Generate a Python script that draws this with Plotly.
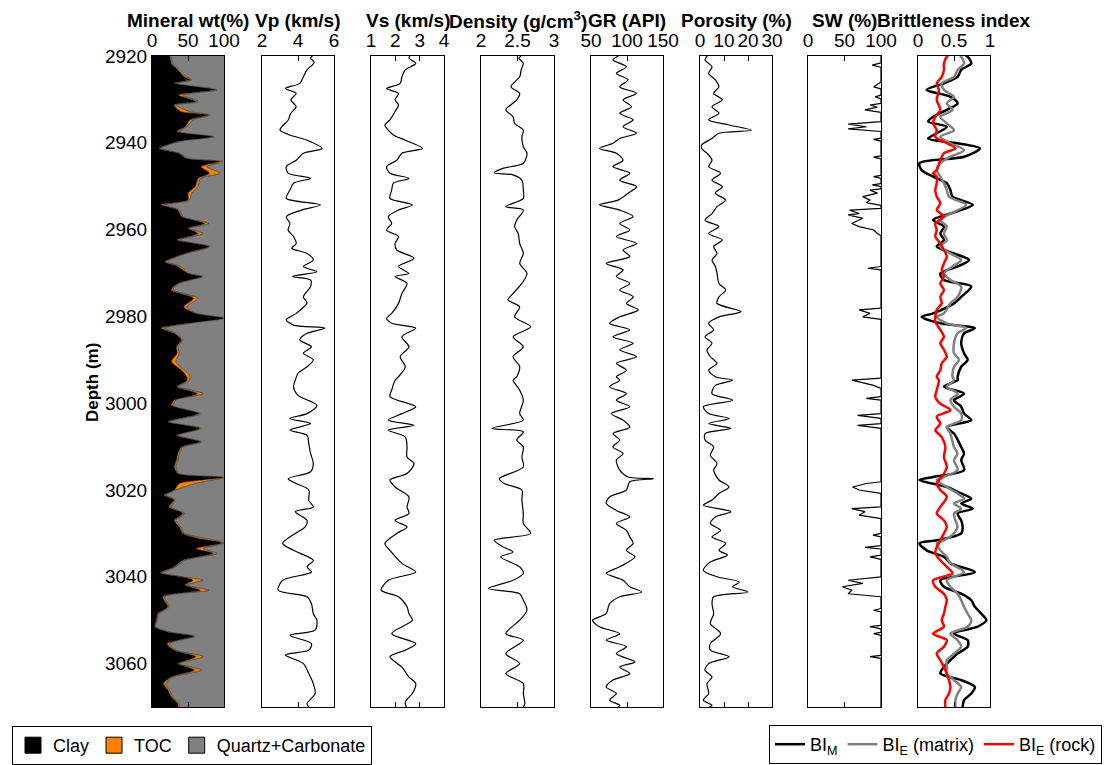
import plotly.graph_objects as go

# ---------------- data (depth in m, value) ----------------
mineral_log = [  # (depth, clay wt%, TOC wt%)
    (2920.0, 24, 1), (2920.2, 25, 1), (2921.7, 27, 2), (2923.2, 36, 2), (2924.8, 45, 3),
    (2925.5, 53, 2), (2926.3, 31, 2), (2927.8, 88, 2), (2929.0, 37, 6), (2930.5, 61, 3),
    (2931.3, 31, 2), (2932.8, 40, 12), (2933.6, 78, 3), (2934.7, 53, 4), (2936.3, 46, 2),
    (2937.4, 35, 3), (2938.6, 84, 2), (2939.7, 36, 2), (2941.3, 10, 2), (2942.4, 37, 1),
    (2943.6, 48, 2), (2944.3, 94, 4), (2945.5, 68, 8), (2947.0, 80, 15), (2948.2, 64, 3),
    (2950.1, 60, 4), (2951.6, 50, 5), (2953.2, 50, 2), (2954.3, 13, 4), (2955.5, 36, 2),
    (2957.0, 41, 2), (2958.6, 73, 6), (2959.7, 50, 2), (2960.9, 64, 7), (2962.4, 35, 3),
    (2963.9, 79, 2), (2965.5, 46, 2), (2967.4, 18, 3), (2968.5, 36, 4), (2970.1, 50, 2),
    (2970.8, 69, 2), (2972.4, 36, 2), (2973.9, 27, 2), (2975.8, 58, 6), (2977.8, 44, 4),
    (2979.3, 60, 2), (2980.4, 99, 1), (2981.6, 50, 2), (2982.7, 13, 4), (2983.9, 31, 2),
    (2985.4, 41, 2), (2987.0, 34, 2), (2988.5, 35, 3), (2990.4, 27, 6), (2992.4, 41, 4),
    (2993.5, 47, 5), (2994.7, 49, 3), (2996.2, 35, 3), (2997.8, 63, 8), (2999.3, 31, 2),
    (3000.5, 27, 2), (3002.4, 65, 2), (3004.3, 22, 2), (3005.8, 66, 3), (3007.4, 34, 2),
    (3008.9, 67, 2), (3010.1, 41, 2), (3011.6, 36, 2), (3013.1, 34, 2), (3014.7, 31, 2),
    (3016.2, 36, 2), (3017.1, 98, 2), (3018.5, 38, 22), (3020.0, 31, 2), (3021.2, 17, 2),
    (3022.3, 31, 2), (3023.9, 24, 2), (3025.4, 43, 2), (3027.0, 31, 2), (3028.5, 38, 2),
    (3030.0, 43, 2), (3031.2, 66, 10), (3032.2, 97, 3), (3033.5, 61, 10), (3034.6, 85, 5),
    (3036.2, 43, 2), (3037.7, 31, 2), (3039.1, 12, 2), (3040.0, 41, 2), (3040.8, 57, 14),
    (3041.9, 46, 2), (3043.1, 67, 12), (3044.6, 15, 2), (3046.9, 22, 2), (3048.5, 8, 2),
    (3050.0, 6, 1), (3051.5, 4, 1), (3052.7, 22, 2), (3053.7, 58, 2), (3055.4, 21, 3),
    (3056.9, 31, 2), (3058.4, 61, 10), (3060.0, 36, 2), (3061.5, 59, 10), (3063.1, 27, 2),
    (3064.6, 16, 3), (3066.1, 22, 2), (3067.7, 27, 2), (3069.2, 36, 2), (3070.0, 36, 2),
]

vp_log = [
    (2920.0, 4.8), (2920.5, 4.7), (2921.5, 4.9), (2923.2, 4.5), (2924.8, 4.3), (2926.3, 4.1),
    (2927.5, 3.3), (2928.6, 3.9), (2930.1, 3.6), (2931.7, 3.9), (2933.2, 3.6), (2934.8, 3.45),
    (2936.3, 3.1), (2937.1, 3.0), (2938.2, 3.55), (2939.4, 4.5), (2941.3, 5.35), (2942.4, 4.3),
    (2944.0, 3.9), (2945.5, 3.35), (2947.0, 3.45), (2948.2, 4.7), (2949.3, 3.75), (2950.9, 3.55),
    (2952.8, 3.35), (2954.3, 5.25), (2955.5, 4.2), (2957.0, 3.35), (2958.6, 3.55), (2960.1, 3.45),
    (2961.6, 3.75), (2963.2, 3.9), (2964.3, 3.65), (2965.5, 4.5), (2967.0, 4.85), (2968.5, 4.3),
    (2969.7, 5.05), (2970.8, 3.7), (2971.6, 4.7), (2973.1, 4.7), (2975.5, 4.3), (2976.9, 4.5),
    (2979.3, 3.9), (2980.8, 3.35), (2982.0, 3.75), (2982.7, 5.5), (2983.9, 4.5), (2985.4, 4.1),
    (2987.0, 4.75), (2988.5, 4.3), (2990.0, 4.85), (2991.6, 4.5), (2993.1, 4.0), (2994.7, 3.85),
    (2996.2, 3.75), (2998.2, 4.0), (3000.5, 5.05), (3002.4, 4.5), (3003.5, 3.55), (3004.7, 4.7),
    (3006.2, 3.55), (3007.4, 4.5), (3009.3, 4.6), (3011.6, 4.7), (3013.9, 4.85), (3015.8, 4.7),
    (3017.4, 3.45), (3018.5, 3.9), (3020.0, 4.6), (3022.4, 4.6), (3023.9, 4.85), (3025.0, 3.85),
    (3027.0, 4.5), (3028.5, 4.4), (3030.0, 3.85), (3032.3, 3.15), (3033.9, 3.75), (3036.2, 4.85),
    (3037.7, 4.5), (3038.9, 4.75), (3040.8, 3.15), (3043.1, 2.9), (3044.6, 4.5), (3046.2, 4.75),
    (3048.5, 4.85), (3050.0, 5.05), (3052.3, 4.95), (3053.5, 3.55), (3055.4, 4.75), (3056.9, 4.6),
    (3058.0, 3.3), (3060.0, 4.3), (3062.3, 4.6), (3064.6, 4.85), (3066.9, 4.95), (3069.2, 4.5),
    (3070.0, 4.6),
]

vs_log = [
    (2920.0, 2.6), (2920.5, 2.56), (2921.7, 2.84), (2923.2, 2.41), (2924.8, 2.27), (2926.3, 2.2),
    (2927.5, 1.64), (2928.6, 2.13), (2930.1, 1.99), (2931.3, 2.13), (2932.8, 1.99), (2934.7, 1.78),
    (2935.9, 1.57), (2937.1, 1.71), (2938.2, 1.92), (2939.4, 2.41), (2941.3, 3.12), (2942.4, 2.27),
    (2944.0, 2.06), (2945.5, 1.64), (2947.0, 1.78), (2948.2, 2.56), (2949.3, 1.92), (2950.9, 1.85),
    (2952.8, 1.78), (2954.3, 2.70), (2955.5, 2.13), (2957.0, 1.71), (2958.6, 1.85), (2960.1, 1.64),
    (2961.6, 2.13), (2963.2, 1.99), (2964.7, 2.06), (2966.6, 2.77), (2968.5, 2.13), (2970.1, 2.56),
    (2970.8, 1.99), (2972.4, 2.48), (2974.7, 2.27), (2977.0, 2.13), (2979.3, 1.85), (2980.4, 1.64),
    (2981.6, 1.85), (2982.7, 2.84), (2984.7, 2.27), (2987.0, 2.56), (2989.3, 2.20), (2991.6, 2.41),
    (2993.9, 2.13), (2994.7, 1.99), (2997.0, 1.85), (2998.5, 1.78), (3000.8, 2.84), (3002.4, 2.27),
    (3003.9, 1.71), (3005.1, 2.77), (3006.2, 1.71), (3007.8, 2.41), (3010.1, 2.48), (3012.4, 2.48),
    (3013.9, 2.77), (3016.2, 2.48), (3017.7, 1.78), (3019.3, 1.99), (3021.6, 2.56), (3023.9, 2.48),
    (3025.4, 2.56), (3027.0, 1.99), (3028.5, 2.48), (3030.0, 2.06), (3032.3, 1.57), (3033.9, 1.78),
    (3036.9, 2.27), (3038.9, 2.84), (3040.8, 1.71), (3043.1, 1.42), (3044.6, 2.13), (3046.9, 2.48),
    (3048.5, 2.56), (3050.0, 2.70), (3053.1, 1.85), (3055.4, 2.84), (3056.9, 2.41), (3058.4, 1.78),
    (3060.8, 2.27), (3063.1, 2.56), (3064.6, 2.84), (3066.9, 2.70), (3068.8, 2.41), (3070.0, 2.45),
]

density_log = [
    (2920.0, 2.55), (2920.5, 2.52), (2921.7, 2.58), (2923.2, 2.55), (2924.8, 2.53), (2927.1, 2.41),
    (2928.6, 2.53), (2930.1, 2.49), (2932.4, 2.34), (2934.0, 2.44), (2935.5, 2.46), (2937.1, 2.58),
    (2938.6, 2.56), (2940.9, 2.58), (2942.4, 2.63), (2944.7, 2.58), (2945.9, 2.30), (2946.9, 2.18),
    (2947.4, 2.44), (2948.6, 2.56), (2950.9, 2.58), (2952.8, 2.58), (2954.7, 2.34), (2955.5, 2.58),
    (2957.8, 2.49), (2959.3, 2.46), (2960.9, 2.51), (2963.2, 2.53), (2965.5, 2.58), (2967.8, 2.53),
    (2970.1, 2.63), (2972.4, 2.56), (2974.7, 2.44), (2976.2, 2.37), (2977.8, 2.53), (2980.1, 2.46),
    (2982.4, 2.68), (2984.7, 2.44), (2987.0, 2.58), (2989.3, 2.44), (2991.6, 2.53), (2993.9, 2.49),
    (2994.7, 2.44), (2997.0, 2.53), (2999.3, 2.58), (3002.4, 2.53), (3003.9, 2.58), (3005.8, 2.15),
    (3006.6, 2.58), (3008.5, 2.49), (3010.1, 2.58), (3012.4, 2.56), (3014.7, 2.58), (3017.4, 2.25),
    (3018.5, 2.32), (3020.0, 2.56), (3022.3, 2.56), (3025.4, 2.58), (3027.7, 2.58), (3030.0, 2.68),
    (3031.6, 2.18), (3033.1, 2.30), (3034.3, 2.44), (3035.4, 2.27), (3037.7, 2.53), (3039.2, 2.58),
    (3040.8, 2.44), (3042.7, 2.10), (3043.9, 2.53), (3045.4, 2.58), (3047.7, 2.63), (3050.0, 2.53),
    (3053.1, 2.34), (3054.6, 2.58), (3057.7, 2.34), (3060.0, 2.53), (3062.3, 2.34), (3064.6, 2.58),
    (3066.9, 2.58), (3069.2, 2.60), (3070.0, 2.58),
]

gr_log = [
    (2920.0, 88), (2920.9, 80.5), (2922.5, 99.2), (2924.0, 85.2), (2925.5, 101.6), (2927.1, 89.9),
    (2928.6, 113.3), (2930.1, 94.6), (2931.7, 106.3), (2933.2, 89.9), (2934.7, 108.6), (2936.3, 94.6),
    (2937.8, 113.3), (2939.0, 89.9), (2940.1, 80.5), (2941.3, 61.7), (2942.4, 85.2), (2944.0, 94.6),
    (2945.5, 80.5), (2947.0, 103.9), (2948.6, 89.9), (2950.1, 113.3), (2951.6, 101.6), (2953.2, 87.5),
    (2954.3, 61.7), (2955.5, 89.9), (2957.0, 108.6), (2958.6, 89.9), (2960.1, 103.9), (2961.6, 85.2),
    (2963.2, 113.3), (2964.7, 94.6), (2966.2, 103.9), (2967.8, 71.1), (2969.3, 94.6), (2970.8, 85.2),
    (2972.4, 103.9), (2973.9, 89.9), (2975.5, 108.6), (2977.0, 99.2), (2978.5, 115.7), (2980.1, 89.9),
    (2981.6, 75.8), (2983.1, 103.9), (2984.7, 80.5), (2986.2, 108.6), (2987.7, 89.9), (2989.3, 113.3),
    (2990.8, 85.2), (2992.4, 99.2), (2993.9, 85.2), (2994.7, 89.9), (2996.2, 75.8), (2997.8, 99.2),
    (2999.3, 85.2), (3000.8, 103.9), (3002.4, 78.1), (3003.9, 94.6), (3005.5, 103.9), (3007.0, 80.5),
    (3008.5, 89.9), (3010.1, 80.5), (3011.6, 94.6), (3013.1, 85.2), (3015.4, 89.9), (3017.0, 101.6),
    (3017.4, 136.8), (3018.1, 103.9), (3020.0, 99.2), (3021.6, 75.8), (3023.1, 71.1), (3024.7, 85.2),
    (3026.2, 103.9), (3027.7, 85.2), (3029.3, 99.2), (3030.8, 103.9), (3032.3, 108.6), (3033.9, 99.2),
    (3035.4, 111.0), (3037.7, 89.9), (3039.2, 71.1), (3040.8, 94.6), (3042.3, 103.9), (3043.5, 120.4),
    (3044.6, 89.9), (3046.2, 75.8), (3048.5, 71.1), (3050.0, 52.3), (3051.5, 61.7), (3053.1, 89.9),
    (3054.6, 71.1), (3056.1, 99.2), (3057.7, 85.2), (3059.6, 111.0), (3060.8, 89.9), (3062.3, 103.9),
    (3063.8, 80.5), (3065.4, 71.1), (3066.9, 85.2), (3068.4, 75.8), (3069.6, 89.9), (3070.0, 88),
]

porosity_log = [
    (2920.0, 3.0), (2920.9, 2.1), (2922.5, 5.0), (2924.0, 3.6), (2925.5, 6.4), (2927.1, 7.9),
    (2928.6, 5.7), (2930.1, 9.3), (2931.7, 5.0), (2933.2, 7.9), (2934.7, 3.6), (2935.9, 12.1),
    (2937.1, 21.4), (2937.8, 7.9), (2939.0, 5.0), (2940.5, 0.7), (2941.3, 0.7), (2942.4, 2.9),
    (2944.0, 5.0), (2945.5, 3.6), (2947.0, 8.6), (2948.6, 5.0), (2950.1, 9.3), (2951.6, 6.4),
    (2953.2, 10.7), (2954.7, 7.1), (2956.3, 5.0), (2957.8, 2.1), (2959.3, 7.9), (2960.9, 3.6),
    (2962.4, 9.3), (2963.9, 5.7), (2965.5, 7.1), (2967.0, 5.0), (2968.5, 6.4), (2970.1, 7.1),
    (2972.4, 7.9), (2973.9, 10.7), (2975.5, 7.9), (2977.0, 7.1), (2978.9, 17.1), (2980.1, 7.9),
    (2981.6, 3.6), (2983.1, 5.7), (2984.7, 2.1), (2986.2, 5.0), (2987.7, 2.9), (2989.3, 4.3),
    (2990.8, 7.1), (2992.4, 3.6), (2993.9, 6.4), (2994.7, 13.6), (2995.9, 6.4), (2997.8, 5.0),
    (2999.3, 13.6), (3000.8, 1.4), (3002.4, 3.6), (3003.5, 12.1), (3004.7, 3.6), (3005.8, 12.9),
    (3007.0, 2.1), (3008.5, 2.1), (3010.1, 5.7), (3012.0, 4.3), (3013.9, 7.1), (3015.4, 5.7),
    (3017.7, 7.9), (3019.3, 12.1), (3020.8, 7.9), (3022.3, 5.0), (3023.5, 1.4), (3025.0, 12.9),
    (3026.2, 6.4), (3027.7, 4.3), (3029.3, 8.6), (3030.8, 5.0), (3032.3, 10.7), (3033.9, 7.9),
    (3035.0, 11.4), (3036.6, 4.3), (3038.5, 1.4), (3040.0, 7.1), (3041.2, 16.4), (3042.3, 13.6),
    (3043.5, 20.0), (3044.6, 5.7), (3046.2, 5.0), (3048.5, 5.7), (3050.8, 4.3), (3053.1, 8.6),
    (3055.4, 4.3), (3056.9, 4.3), (3058.4, 12.1), (3060.0, 3.6), (3061.5, 2.1), (3063.1, 5.0),
    (3064.6, 2.9), (3066.9, 3.6), (3068.4, 1.4), (3069.6, 5.0), (3070.0, 4.0),
]

sw_log = [
    (2920.0, 100), (2921.6, 100), (2922.1, 88), (2922.6, 100), (2926.0, 100), (2927.1, 90),
    (2927.6, 100), (2929.0, 100), (2929.4, 92), (2929.9, 100), (2930.9, 100), (2931.3, 85),
    (2931.8, 95), (2932.4, 78), (2933.0, 100), (2935.1, 100), (2935.7, 55), (2936.3, 80),
    (2936.8, 55), (2937.4, 100), (2938.9, 100), (2939.2, 90), (2939.6, 100), (2943.0, 100),
    (2943.3, 90), (2943.7, 100), (2947.5, 100), (2947.8, 90), (2948.2, 100), (2949.4, 100),
    (2949.7, 88), (2950.1, 100), (2950.6, 100), (2950.9, 85), (2951.6, 95), (2952.4, 75),
    (2953.2, 85), (2953.8, 80), (2954.4, 100), (2955.1, 100), (2955.5, 57), (2956.3, 70),
    (2956.6, 55), (2957.4, 75), (2958.6, 60), (2959.3, 70), (2960.1, 90), (2960.9, 95),
    (2961.4, 100), (2968.5, 100), (2968.9, 82), (2969.3, 100), (2978.1, 100), (2978.5, 70),
    (2979.3, 85), (2980.1, 75), (2980.7, 100), (2994.2, 100), (2994.7, 60), (2995.9, 90),
    (2996.6, 100), (2998.5, 100), (2998.9, 80), (2999.3, 100), (3002.4, 100), (3002.8, 68),
    (3003.5, 100), (3004.7, 100), (3005.1, 68), (3005.8, 100), (3018.1, 100), (3018.5, 80),
    (3019.3, 61), (3020.0, 70), (3020.8, 100), (3023.9, 100), (3024.3, 60), (3025.0, 78),
    (3025.8, 70), (3026.6, 100), (3030.0, 100), (3030.4, 89), (3030.8, 100), (3032.8, 100),
    (3033.2, 78), (3033.6, 100), (3035.0, 100), (3035.4, 85), (3036.0, 100), (3040.0, 100),
    (3040.8, 55), (3041.5, 75), (3042.3, 47), (3043.1, 60), (3043.9, 55), (3044.6, 100),
    (3047.3, 100), (3047.7, 90), (3048.1, 100), (3051.2, 100), (3051.5, 85), (3052.0, 100),
    (3052.8, 100), (3053.1, 90), (3053.5, 100), (3058.1, 100), (3058.4, 85), (3058.8, 100),
    (3070.0, 100),
]

bi_m_log = [
    (2920.0, 0.66), (2920.2, 0.69), (2921.7, 0.74), (2923.2, 0.60), (2924.8, 0.55), (2926.3, 0.36),
    (2927.8, 0.12), (2929.4, 0.45), (2930.9, 0.55), (2932.4, 0.40), (2934.0, 0.21), (2935.1, 0.14),
    (2936.3, 0.40), (2937.8, 0.26), (2939.0, 0.14), (2940.1, 0.55), (2941.3, 0.86), (2943.2, 0.64),
    (2944.7, 0.02), (2946.3, 0.05), (2947.8, 0.21), (2949.3, 0.40), (2950.9, 0.45), (2952.4, 0.48),
    (2954.3, 0.76), (2956.3, 0.45), (2957.8, 0.21), (2959.3, 0.36), (2960.9, 0.31), (2962.4, 0.36),
    (2963.9, 0.26), (2965.5, 0.50), (2967.0, 0.71), (2968.5, 0.55), (2970.1, 0.31), (2971.6, 0.36),
    (2973.1, 0.74), (2975.5, 0.60), (2977.0, 0.50), (2979.3, 0.21), (2980.1, 0.05), (2981.6, 0.31),
    (2982.7, 0.79), (2983.9, 0.64), (2986.2, 0.60), (2988.5, 0.64), (2990.0, 0.69), (2991.6, 0.60),
    (2993.9, 0.55), (2994.7, 0.55), (2996.2, 0.36), (2997.8, 0.64), (2999.3, 0.50), (3000.8, 0.60),
    (3002.4, 0.64), (3003.9, 0.74), (3005.5, 0.40), (3007.0, 0.50), (3010.1, 0.60), (3011.6, 0.64),
    (3013.1, 0.60), (3015.4, 0.64), (3017.0, 0.21), (3017.7, 0.02), (3019.3, 0.40), (3020.8, 0.60),
    (3022.0, 0.74), (3023.1, 0.60), (3024.3, 0.76), (3025.4, 0.55), (3027.0, 0.60), (3028.5, 0.62),
    (3030.0, 0.60), (3031.6, 0.26), (3032.3, 0.02), (3033.9, 0.12), (3035.4, 0.36), (3036.9, 0.45),
    (3038.9, 0.79), (3040.8, 0.31), (3042.3, 0.36), (3043.9, 0.60), (3045.4, 0.74), (3046.9, 0.79),
    (3048.5, 0.88), (3050.0, 0.95), (3051.5, 0.83), (3053.1, 0.50), (3054.6, 0.69), (3056.1, 0.69),
    (3057.7, 0.55), (3059.2, 0.45), (3060.8, 0.36), (3062.3, 0.31), (3063.8, 0.60), (3065.4, 0.79),
    (3066.9, 0.74), (3068.4, 0.64), (3070.0, 0.62),
]

bi_e_matrix_log = [
    (2920.0, 0.58), (2920.2, 0.60), (2921.7, 0.64), (2923.2, 0.55), (2924.8, 0.50), (2926.3, 0.33),
    (2927.8, 0.36), (2929.4, 0.50), (2930.9, 0.40), (2932.4, 0.48), (2934.0, 0.31), (2935.5, 0.40),
    (2937.1, 0.50), (2938.6, 0.31), (2940.1, 0.45), (2941.7, 0.64), (2943.2, 0.45), (2944.7, 0.31),
    (2946.3, 0.26), (2947.8, 0.31), (2949.3, 0.36), (2950.9, 0.40), (2952.4, 0.43), (2954.3, 0.67),
    (2956.3, 0.45), (2957.8, 0.31), (2959.3, 0.40), (2960.9, 0.36), (2962.4, 0.40), (2963.9, 0.31),
    (2965.5, 0.45), (2967.0, 0.60), (2968.5, 0.48), (2970.1, 0.36), (2971.6, 0.45), (2973.1, 0.60),
    (2975.5, 0.55), (2977.0, 0.45), (2979.3, 0.36), (2980.1, 0.26), (2981.6, 0.40), (2982.7, 0.67),
    (2983.9, 0.55), (2986.2, 0.50), (2988.5, 0.50), (2990.0, 0.57), (2991.6, 0.50), (2993.9, 0.48),
    (2994.7, 0.50), (2996.2, 0.40), (2997.8, 0.55), (2999.3, 0.45), (3000.8, 0.50), (3002.4, 0.60),
    (3003.9, 0.60), (3005.5, 0.40), (3007.0, 0.45), (3010.1, 0.50), (3011.6, 0.55), (3013.1, 0.50),
    (3015.4, 0.55), (3017.0, 0.36), (3017.7, 0.26), (3019.3, 0.40), (3020.8, 0.55), (3022.0, 0.64),
    (3023.1, 0.50), (3024.3, 0.60), (3025.4, 0.50), (3027.0, 0.52), (3028.5, 0.55), (3030.0, 0.50),
    (3031.6, 0.36), (3032.3, 0.26), (3033.9, 0.31), (3035.4, 0.40), (3036.9, 0.45), (3038.9, 0.64),
    (3040.8, 0.40), (3042.3, 0.45), (3043.9, 0.55), (3045.4, 0.60), (3046.9, 0.64), (3048.5, 0.69),
    (3050.0, 0.74), (3051.5, 0.69), (3053.1, 0.45), (3054.6, 0.55), (3056.1, 0.60), (3057.7, 0.50),
    (3059.2, 0.40), (3060.8, 0.40), (3062.3, 0.40), (3063.8, 0.50), (3065.4, 0.60), (3066.9, 0.55),
    (3068.4, 0.52), (3070.0, 0.52),
]

bi_e_rock_log = [
    (2920.0, 0.42), (2920.2, 0.40), (2921.7, 0.36), (2923.2, 0.36), (2924.8, 0.33), (2926.3, 0.26),
    (2927.8, 0.29), (2930.1, 0.26), (2932.4, 0.31), (2934.0, 0.24), (2935.5, 0.21), (2937.1, 0.26),
    (2938.6, 0.24), (2940.1, 0.40), (2941.3, 0.52), (2942.4, 0.36), (2944.0, 0.31), (2946.3, 0.26),
    (2947.0, 0.21), (2947.8, 0.26), (2949.3, 0.26), (2950.9, 0.24), (2952.4, 0.26), (2953.9, 0.31),
    (2955.5, 0.26), (2957.0, 0.36), (2958.6, 0.24), (2960.1, 0.26), (2961.6, 0.24), (2963.2, 0.31),
    (2964.7, 0.36), (2966.2, 0.40), (2967.8, 0.36), (2969.3, 0.33), (2970.8, 0.36), (2972.4, 0.31),
    (2973.9, 0.36), (2975.5, 0.31), (2977.0, 0.33), (2978.5, 0.26), (2980.1, 0.24), (2981.2, 0.24),
    (2983.1, 0.31), (2984.7, 0.36), (2986.2, 0.31), (2987.7, 0.36), (2989.3, 0.40), (2990.8, 0.33),
    (2992.4, 0.31), (2993.9, 0.26), (2994.7, 0.29), (2997.0, 0.26), (2998.5, 0.24), (3000.1, 0.31),
    (3001.6, 0.45), (3003.1, 0.26), (3004.7, 0.31), (3006.2, 0.24), (3007.8, 0.33), (3010.1, 0.38),
    (3012.4, 0.36), (3014.7, 0.40), (3017.0, 0.33), (3018.5, 0.26), (3020.0, 0.31), (3021.6, 0.40),
    (3023.9, 0.31), (3025.4, 0.26), (3027.0, 0.36), (3028.5, 0.40), (3030.0, 0.36), (3031.6, 0.31),
    (3033.1, 0.26), (3034.6, 0.24), (3036.2, 0.31), (3037.7, 0.40), (3039.2, 0.48), (3040.8, 0.21),
    (3042.3, 0.24), (3043.9, 0.36), (3045.4, 0.40), (3046.9, 0.38), (3048.5, 0.36), (3050.0, 0.33),
    (3051.5, 0.36), (3053.1, 0.21), (3054.6, 0.40), (3056.1, 0.36), (3057.7, 0.26), (3059.2, 0.31),
    (3060.8, 0.36), (3062.3, 0.40), (3063.8, 0.43), (3065.4, 0.45), (3066.9, 0.43), (3068.4, 0.38),
    (3070.0, 0.38),
]

track_titles = ["Mineral wt(%)", "Vp (km/s)", "Vs (km/s)", "Density (g/cm<sup>3</sup>)",
                "GR (API)", "Porosity (%)", "SW (%)", "Brittleness index"]
track_ranges = [(0, 100), (2, 6), (1, 4), (2, 3), (50, 150), (0, 30), (0, 100), (0, 1)]
track_ticks = [[0, 50, 100], [2, 4, 6], [1, 2, 3, 4], [2, 2.5, 3], [50, 100, 150],
               [0, 10, 20, 30], [0, 50, 100], [0, 0.5, 1]]
depth_ticks = [2920, 2940, 2960, 2980, 3000, 3020, 3040, 3060]
DEPTH_TOP, DEPTH_BOTTOM = 2920, 3070

# ---------------- layout geometry ----------------
W, H = 1105, 765
track_px = [(152, 224), (262, 334), (371, 444), (481, 554), (591, 663),
            (700, 772), (808, 881), (918, 990)]
y_dom = [(H - 707) / H, (H - 56) / H]
FONT = "Liberation Sans, Arial, sans-serif"
TICK_SIZE = 19
TITLE_SIZE = 19
LEGEND_SIZE = 18


def unzip(log):
    return [p[0] for p in log], [p[1] for p in log]


fig = go.Figure()

# Track 1: stacked mineral fractions
m_depth = [p[0] for p in mineral_log]
clay = [p[1] for p in mineral_log]
clay_toc = [p[1] + p[2] for p in mineral_log]
fig.add_trace(go.Scatter(x=clay, y=m_depth, mode="lines", fill="tozerox", fillcolor="black",
                         line=dict(color="black", width=0.6, shape="spline", smoothing=0.7),
                         showlegend=False, hoverinfo="skip", xaxis="x", yaxis="y"))
fig.add_trace(go.Scatter(x=clay_toc, y=m_depth, mode="lines", fill="tonextx", fillcolor="#FF8000",
                         line=dict(color="#202020", width=0.6, shape="spline", smoothing=0.7),
                         showlegend=False, hoverinfo="skip", xaxis="x", yaxis="y"))
fig.add_trace(go.Scatter(x=[100] * len(m_depth), y=m_depth, mode="lines", fill="tonextx",
                         fillcolor="#808080", line=dict(color="#808080", width=0),
                         showlegend=False, hoverinfo="skip", xaxis="x", yaxis="y"))

# legend entries for the mineral track
for name, col in [("Clay", "black"), ("TOC", "#FF8000"), ("Quartz+Carbonate", "#808080")]:
    fig.add_trace(go.Scatter(x=[None], y=[None], mode="markers", name=name,
                             marker=dict(symbol="square", size=18, color=col,
                                         line=dict(color="black", width=1)),
                             legend="legend", xaxis="x", yaxis="y"))

# Tracks 2-7: single curves
for idx, log, shape in [(2, vp_log, "spline"), (3, vs_log, "spline"), (4, density_log, "spline"),
                        (5, gr_log, "spline"), (6, porosity_log, "spline"), (7, sw_log, "linear")]:
    d, v = unzip(log)
    line = dict(color="black", width=1.2, shape=shape)
    if shape == "spline":
        line["smoothing"] = 0.8
    fig.add_trace(go.Scatter(x=v, y=d, mode="lines", line=line, showlegend=False,
                             xaxis=f"x{idx}", yaxis=f"y{idx}"))

# Track 8: brittleness
for log, col, name in [(bi_m_log, "black", "BI<sub>M</sub>"),
                       (bi_e_matrix_log, "#808080", "BI<sub>E</sub> (matrix)"),
                       (bi_e_rock_log, "#FF0000", "BI<sub>E</sub> (rock)")]:
    d, v = unzip(log)
    fig.add_trace(go.Scatter(x=v, y=d, mode="lines", name=name,
                             line=dict(color=col, width=2.5, shape="spline", smoothing=0.8),
                             legend="legend2", xaxis="x8", yaxis="y8"))

layout = dict(
    template="none",
    width=W, height=H, margin=dict(l=0, r=0, t=0, b=0, autoexpand=False),
    paper_bgcolor="white", plot_bgcolor="white",
    font=dict(family=FONT, size=TICK_SIZE, color="black"),
    showlegend=True,
)
for i in range(8):
    k = "" if i == 0 else str(i + 1)
    l, r = track_px[i]
    layout[f"xaxis{k}"] = dict(
        domain=[l / W, r / W], range=list(track_ranges[i]), side="top",
        anchor=f"y{k}", tickvals=track_ticks[i],
        ticktext=[("%g" % t) for t in track_ticks[i]],
        ticks="inside", ticklen=5, tickcolor="black", mirror="ticks",
        showline=True, linecolor="black", linewidth=1, showgrid=False, zeroline=False,
        automargin=False,
        tickfont=dict(size=TICK_SIZE, family=FONT, color="black"), fixedrange=True,
    )
    layout[f"yaxis{k}"] = dict(
        domain=y_dom, range=[DEPTH_BOTTOM, DEPTH_TOP], anchor=f"x{k}",
        showline=True, linecolor="black", linewidth=1, mirror=True,
        showgrid=False, zeroline=False, ticks="", automargin=False,
        showticklabels=(i == 0), tickvals=depth_ticks,
        tickfont=dict(size=TICK_SIZE, family=FONT, color="black"), fixedrange=True,
    )

layout["legend"] = dict(
    orientation="h", x=12 / W, xanchor="left", y=(H - 726) / H, yanchor="top",
    bordercolor="black", borderwidth=1, bgcolor="white", traceorder="normal",
    font=dict(size=LEGEND_SIZE, family=FONT, color="black"), itemsizing="trace",
)
layout["legend2"] = dict(
    orientation="h", x=1102 / W, xanchor="right", y=(H - 725) / H, yanchor="top",
    bordercolor="black", borderwidth=1, bgcolor="white", traceorder="normal",
    font=dict(size=LEGEND_SIZE, family=FONT, color="black"),
)

annotations = []
for i, t in enumerate(track_titles):
    l, r = track_px[i]
    annotations.append(dict(text=f"<b>{t}</b>", x=(l + r) / 2 / W, y=(H - 20) / H,
                            xref="paper", yref="paper", showarrow=False,
                            xanchor="center", yanchor="middle",
                            font=dict(size=TITLE_SIZE, family=FONT, color="black")))
annotations.append(dict(text="<b>Depth (m)</b>", x=92 / W, y=(H - 383) / H, xref="paper",
                        yref="paper", showarrow=False, textangle=-90,
                        xanchor="center", yanchor="middle",
                        font=dict(size=17, family=FONT, color="black")))
layout["annotations"] = annotations

fig.update_layout(**layout)
fig.write_html("out.html")
